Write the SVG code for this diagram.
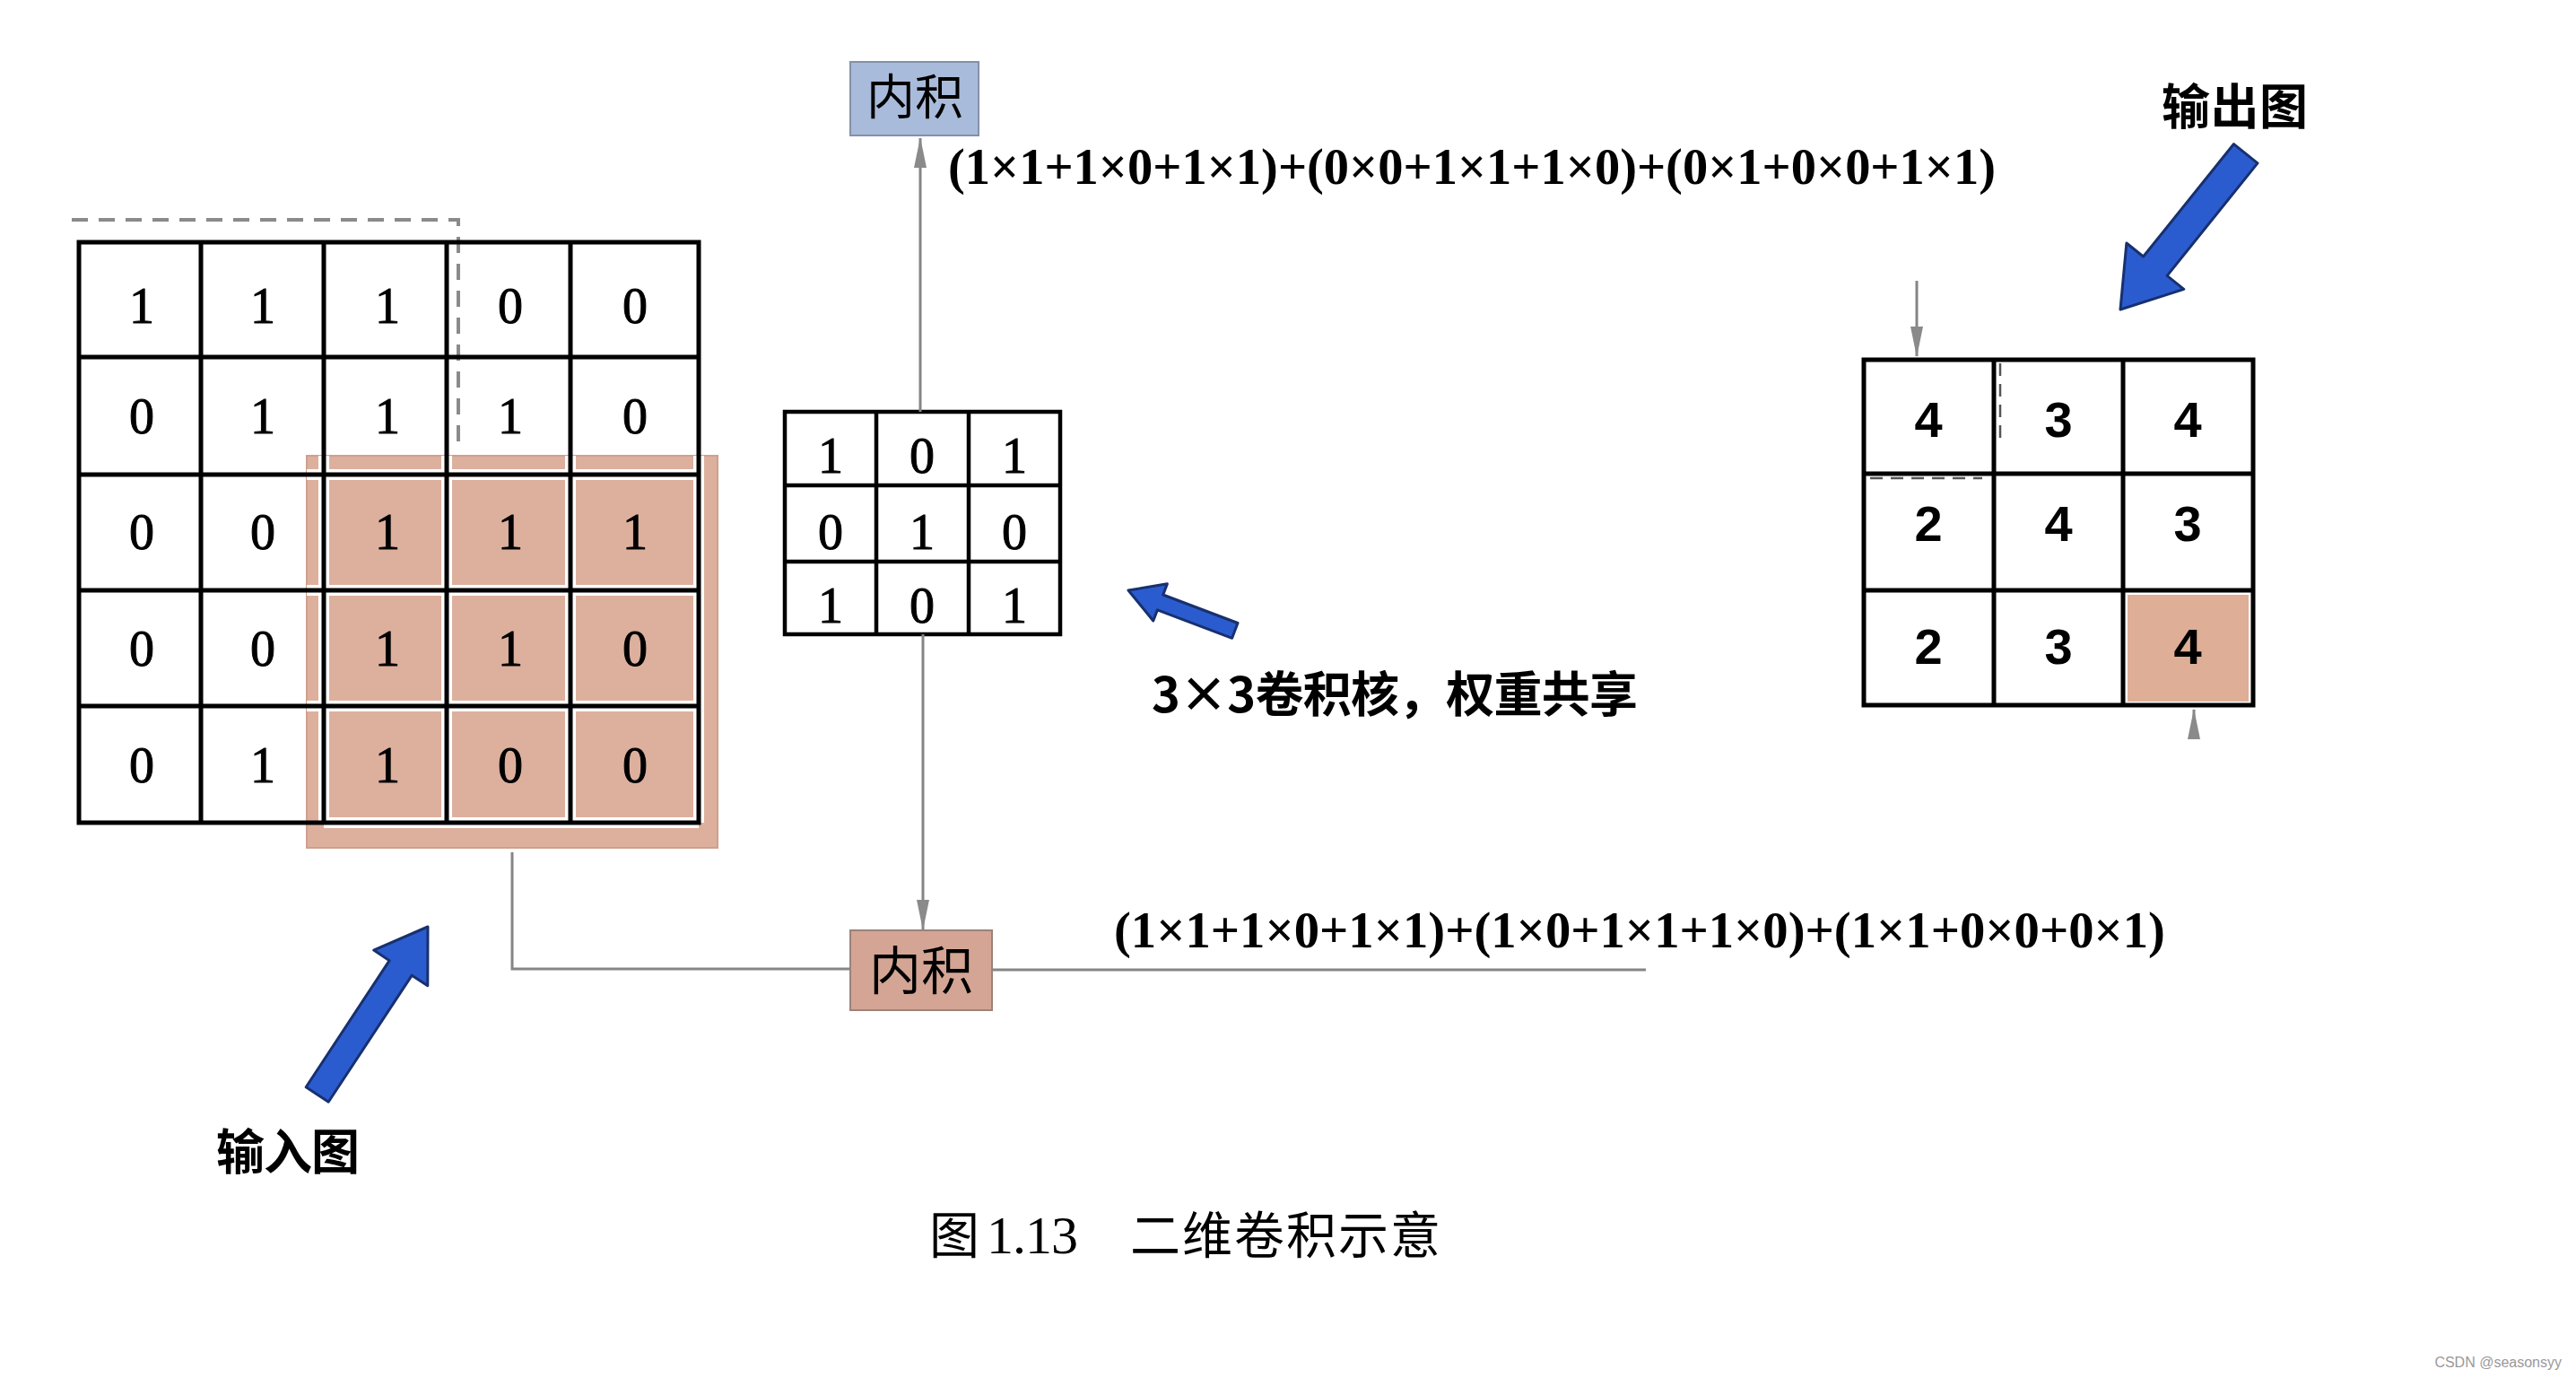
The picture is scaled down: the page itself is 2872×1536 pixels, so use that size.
<svg xmlns="http://www.w3.org/2000/svg" width="2872" height="1536" viewBox="0 0 2872 1536">
<style>
.grid{stroke:#000;stroke-width:5;fill:none;stroke-linecap:square}
.num{font-family:"Liberation Serif","Times New Roman",serif;font-size:56px;fill:#000;stroke:#000;stroke-width:1;text-anchor:middle}
.onum{font-family:"Liberation Sans",Arial,sans-serif;font-size:56px;font-weight:bold;fill:#000;text-anchor:middle}
.cjk{font-family:"Noto Sans CJK SC","Noto Sans",sans-serif;fill:#000}
.formula{font-family:"Liberation Serif","Times New Roman",serif;font-size:57px;font-weight:bold;fill:#000}
.conn{stroke:#858585;stroke-width:3;fill:none}
.dash{stroke:#8a8a8a;stroke-width:4;fill:none;stroke-dasharray:18 12}
.blue{fill:#2b5ccf;stroke:#18306f;stroke-width:3;stroke-linejoin:round}
.wgap{stroke:#fff;stroke-width:12;fill:none}
</style>
<defs>
<marker id="ah" markerUnits="userSpaceOnUse" markerWidth="34" markerHeight="16" viewBox="0 0 34 16" refX="33" refY="8" orient="auto">
<path d="M0,1 L34,8 L0,15 z" fill="#8a8a8a"/>
</marker>
</defs>
<rect width="2872" height="1536" fill="#fff"/>

<g id="input-grid">
<path class="dash" d="M80,245 H511 V503"/>
<rect x="342" y="508" width="458" height="437" fill="#ddb09e" stroke="#cfa08d" stroke-width="2"/>
<path class="wgap" d="M361,508 V917 M498,508 V917 M636,508 V917 M779,508 V917 M342,529 H779 M342,658 H779 M342,787 H779 M361,917 H779"/>
<path class="grid" d="M88,270 H779 M88,398 H779 M88,529 H779 M88,658 H779 M88,787 H779 M88,917 H779 M88,270 V917 M224,270 V917 M361,270 V917 M498,270 V917 M636,270 V917 M779,270 V917"/>
<text class="num" x="158" y="360">1</text><text class="num" x="293" y="360">1</text><text class="num" x="432" y="360">1</text><text class="num" x="569" y="360">0</text><text class="num" x="708" y="360">0</text>
<text class="num" x="158" y="483">0</text><text class="num" x="293" y="483">1</text><text class="num" x="432" y="483">1</text><text class="num" x="569" y="483">1</text><text class="num" x="708" y="483">0</text>
<text class="num" x="158" y="612">0</text><text class="num" x="293" y="612">0</text><text class="num" x="432" y="612">1</text><text class="num" x="569" y="612">1</text><text class="num" x="708" y="612">1</text>
<text class="num" x="158" y="742">0</text><text class="num" x="293" y="742">0</text><text class="num" x="432" y="742">1</text><text class="num" x="569" y="742">1</text><text class="num" x="708" y="742">0</text>
<text class="num" x="158" y="872">0</text><text class="num" x="293" y="872">1</text><text class="num" x="432" y="872">1</text><text class="num" x="569" y="872">0</text><text class="num" x="708" y="872">0</text>
</g>

<g id="kernel">
<path class="grid" style="stroke-width:4.5" d="M875,459 H1182 M875,541 H1182 M875,626 H1182 M875,707 H1182 M875,459 V707 M977,459 V707 M1080,459 V707 M1182,459 V707"/>
<text class="num" x="926" y="527">1</text><text class="num" x="1028" y="527">0</text><text class="num" x="1131" y="527">1</text>
<text class="num" x="926" y="612">0</text><text class="num" x="1028" y="612">1</text><text class="num" x="1131" y="612">0</text>
<text class="num" x="926" y="694">1</text><text class="num" x="1028" y="694">0</text><text class="num" x="1131" y="694">1</text>
</g>

<g id="output-grid">
<rect x="2372" y="663" width="135" height="119" fill="#deae97"/>
<path d="M2230,405 V493 M2085,533 H2210" stroke="#555" stroke-width="2.5" stroke-dasharray="14 9" fill="none"/>
<path class="grid" d="M2078,401 H2512 M2078,528 H2512 M2078,658 H2512 M2078,786 H2512 M2078,401 V786 M2223,401 V786 M2367,401 V786 M2512,401 V786"/>
<text class="onum" x="2150" y="487">4</text><text class="onum" x="2295" y="487">3</text><text class="onum" x="2439" y="487">4</text>
<text class="onum" x="2150" y="603">2</text><text class="onum" x="2295" y="603">4</text><text class="onum" x="2439" y="603">3</text>
<text class="onum" x="2150" y="740">2</text><text class="onum" x="2295" y="740">3</text><text class="onum" x="2439" y="740">4</text>
</g>

<g id="box-top">
<rect x="948" y="69" width="143" height="82" fill="#a9bbda" stroke="#8391a8" stroke-width="2"/>
<text class="cjk" x="1020" y="128" font-size="54" text-anchor="middle">内积</text>
</g>

<g id="box-bottom">
<rect x="948" y="1037" width="158" height="89" fill="#d4a594" stroke="#9c8278" stroke-width="2"/>
<text class="cjk" x="1027" y="1103" font-size="58" text-anchor="middle">内积</text>
</g>

<g id="connectors">
<line class="conn" x1="1026" y1="459" x2="1026" y2="154" marker-end="url(#ah)"/>
<line class="conn" x1="1029" y1="707" x2="1029" y2="1036" marker-end="url(#ah)"/>
<polyline class="conn" points="571,950 571,1080 948,1080"/>
<line class="conn" x1="1106" y1="1081" x2="1835" y2="1081"/>
<line class="conn" x1="2137" y1="313" x2="2137" y2="397" marker-end="url(#ah)"/>
<line class="conn" x1="2446" y1="822" x2="2446" y2="791" marker-end="url(#ah)"/>
</g>

<g id="blue-arrows">
<polygon class="blue" transform="translate(2364,345) rotate(128.8)" points="0,0 -62,41 -62,17 -223,17 -223,-17 -62,-17 -62,-41"/>
<polygon class="blue" transform="translate(477,1033) rotate(-56.6)" points="0,0 -55,36 -55,15 -224,15 -224,-15 -55,-15 -55,-36"/>
<polygon class="blue" transform="translate(1258,658) rotate(200.7)" points="0,0 -38,22 -38,9 -127,9 -127,-9 -38,-9 -38,-22"/>
</g>

<g id="labels">
<text class="formula" x="1057" y="205" textLength="1168" lengthAdjust="spacingAndGlyphs">(1×1+1×0+1×1)+(0×0+1×1+1×0)+(0×1+0×0+1×1)</text>
<text class="formula" x="1242" y="1056" textLength="1172" lengthAdjust="spacingAndGlyphs">(1×1+1×0+1×1)+(1×0+1×1+1×0)+(1×1+0×0+0×1)</text>
<text class="cjk" x="2410" y="139" font-size="54" font-weight="bold" textLength="163">输出图</text>
<text class="cjk" x="241" y="1304" font-size="54" font-weight="bold" textLength="160">输入图</text>
<text class="cjk" x="1284" y="794" font-size="54" font-weight="bold" textLength="542">3×3卷积核，权重共享</text>
<text class="cjk" x="1036" y="1397" font-size="56">图</text>
<text x="1100" y="1397" font-size="60" font-family="'Liberation Serif',serif" textLength="102">1.13</text>
<text class="cjk" x="1260" y="1397" font-size="56" textLength="346">二维卷积示意</text>
<text x="2856" y="1524" font-size="16" fill="#999" text-anchor="end" font-family="'Liberation Sans',Arial,sans-serif">CSDN @seasonsyy</text>
</g>
</svg>
